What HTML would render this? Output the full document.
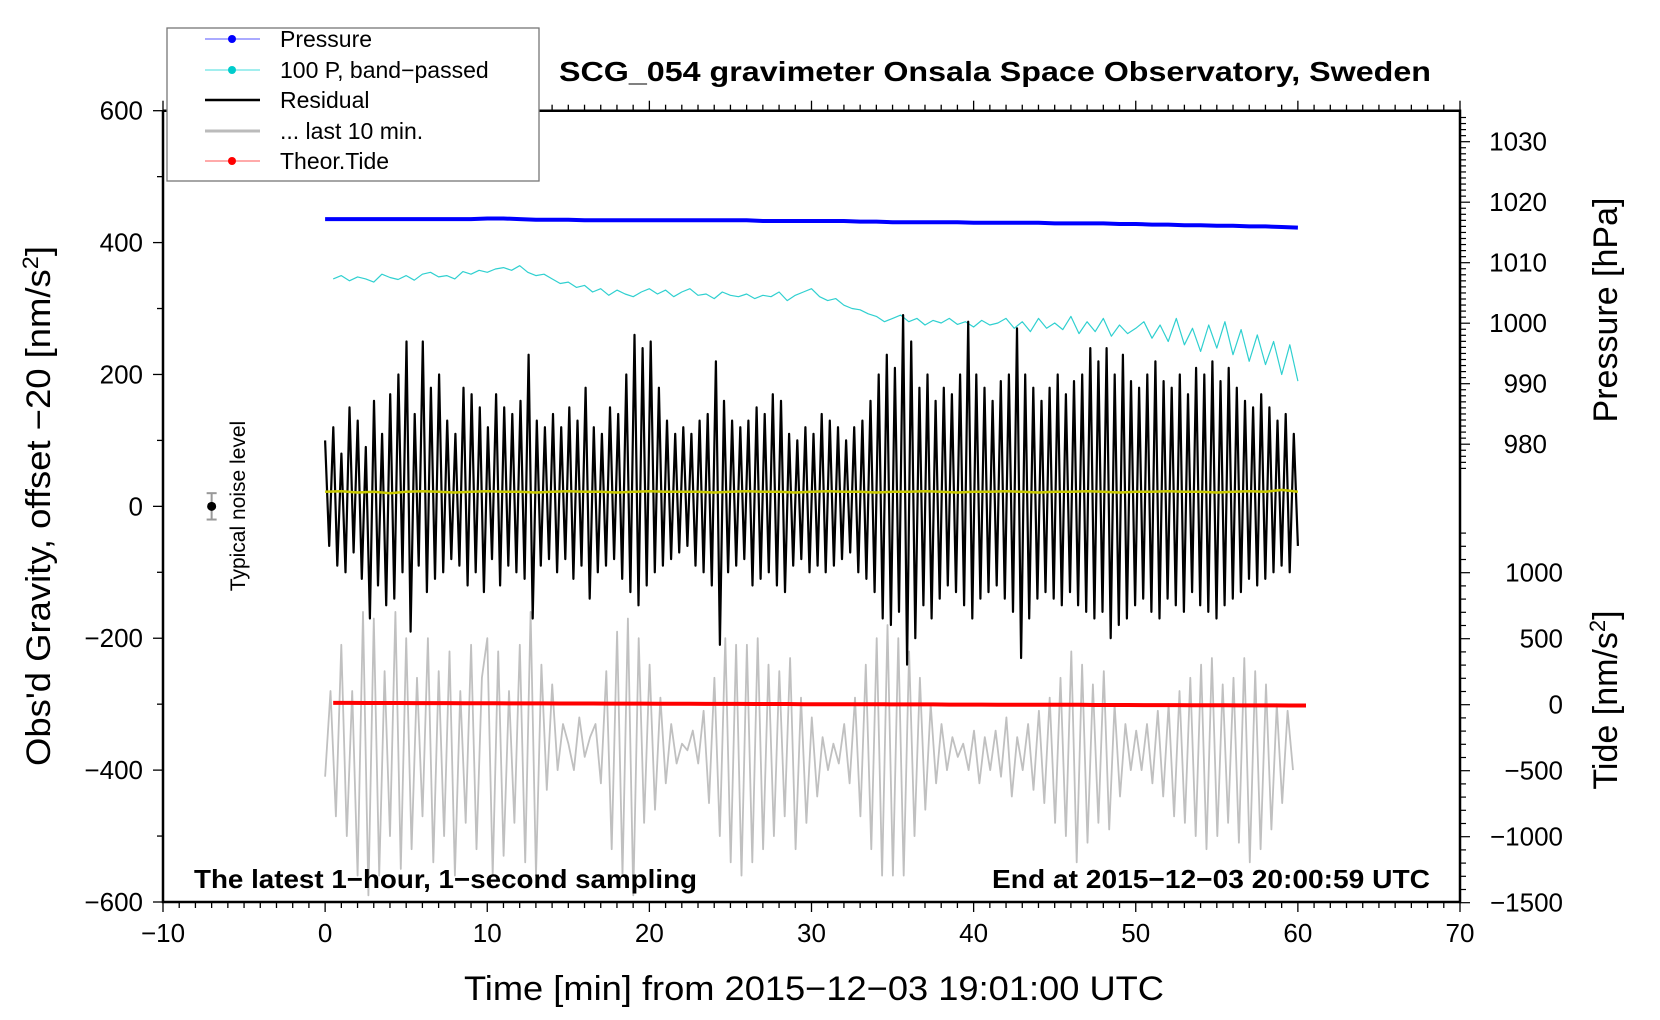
<!DOCTYPE html>
<html><head><meta charset="utf-8"><style>
html,body{margin:0;padding:0;background:#fff}
svg{display:block;font-family:"Liberation Sans",sans-serif}
</style></head><body>
<svg id="chart" width="1660" height="1020" viewBox="0 0 1660 1020">
<g id="series"></g>
<g id="axes"></g>
<rect x="167" y="28" width="372" height="153" fill="#fff" stroke="#777" stroke-width="1.3"/>
<g font-size="23">
 <g><line x1="205" y1="39" x2="260" y2="39" stroke="#55f" stroke-width="1"/><circle cx="232" cy="39" r="4" fill="#00f"/><text x="280" y="47">Pressure</text></g>
 <g><line x1="205" y1="70" x2="260" y2="70" stroke="#4dd" stroke-width="1"/><circle cx="232" cy="70" r="4" fill="#0cc"/><text x="280" y="78">100 P, band−passed</text></g>
 <g><line x1="205" y1="100" x2="260" y2="100" stroke="#000" stroke-width="2.5"/><text x="280" y="108">Residual</text></g>
 <g><line x1="205" y1="131" x2="260" y2="131" stroke="#bbb" stroke-width="3"/><text x="280" y="139">... last 10 min.</text></g>
 <g><line x1="205" y1="161" x2="260" y2="161" stroke="#f55" stroke-width="1"/><circle cx="232" cy="161" r="4" fill="#f00"/><text x="280" y="169">Theor.Tide</text></g>
</g>
<text x="559" y="81" font-size="28" font-weight="bold" textLength="872" lengthAdjust="spacingAndGlyphs">SCG_054 gravimeter Onsala Space Observatory, Sweden</text>
<text x="194" y="888" font-size="26" font-weight="bold" textLength="503" lengthAdjust="spacingAndGlyphs">The latest 1−hour, 1−second sampling</text>
<text x="1430" y="888" font-size="26" font-weight="bold" text-anchor="end" textLength="438" lengthAdjust="spacingAndGlyphs">End at 2015−12−03 20:00:59 UTC</text>
<text x="814" y="1000" font-size="34" text-anchor="middle" textLength="700" lengthAdjust="spacingAndGlyphs">Time [min] from 2015−12−03 19:01:00 UTC</text>
<text transform="translate(50,506) rotate(-90)" font-size="34" text-anchor="middle" textLength="520" lengthAdjust="spacingAndGlyphs">Obs'd Gravity, offset −20 [nm/s<tspan dy="-12" font-size="22">2</tspan><tspan dy="12">]</tspan></text>
<text transform="translate(1617,310) rotate(-90)" font-size="34" text-anchor="middle">Pressure [hPa]</text>
<text transform="translate(1617,700) rotate(-90)" font-size="34" text-anchor="middle">Tide [nm/s<tspan dy="-12" font-size="22">2</tspan><tspan dy="12">]</tspan></text>
<text transform="translate(245,506) rotate(-90)" font-size="21" text-anchor="middle">Typical noise level</text>
</svg>
<script>
const residual = [100,-60,120,-90,80,-100,150,-70,130,-110,90,-170,160,-120,110,-150,170,-140,200,-100,250,-190,140,-90,250,-130,180,-110,200,-100,130,-80,110,-90,180,-120,170,-100,150,-130,120,-80,170,-120,150,-90,140,-100,160,-110,230,-170,130,-90,120,-80,140,-100,120,-80,150,-110,130,-90,180,-140,120,-100,110,-90,150,-80,140,-110,200,-130,260,-150,240,-120,250,-100,180,-90,130,-80,110,-70,120,-60,110,-90,130,-100,140,-120,220,-210,160,-100,130,-90,120,-80,130,-120,150,-110,140,-100,170,-120,160,-130,110,-90,100,-80,120,-100,110,-90,140,-100,130,-90,120,-80,100,-70,120,-100,130,-110,160,-130,200,-170,230,-180,210,-160,290,-240,250,-200,180,-150,200,-170,160,-140,180,-120,170,-130,200,-150,280,-170,200,-140,180,-130,160,-120,190,-140,200,-160,270,-230,200,-170,180,-140,160,-130,180,-140,200,-150,170,-130,190,-150,200,-160,240,-170,220,-160,240,-200,200,-180,230,-170,190,-150,180,-140,200,-160,220,-170,190,-140,180,-150,200,-160,170,-130,210,-150,200,-160,220,-170,190,-150,210,-140,180,-130,160,-110,150,-120,170,-110,150,-100,130,-90,140,-100,110,-60];
const last10 = [-410,-280,-470,-210,-500,-280,-560,-160,-590,-170,-560,-250,-500,-160,-550,-200,-520,-260,-470,-200,-540,-250,-500,-220,-560,-280,-480,-210,-520,-260,-200,-560,-220,-530,-280,-480,-210,-540,-160,-560,-240,-430,-270,-400,-330,-360,-400,-320,-380,-350,-330,-420,-250,-520,-190,-560,-170,-590,-200,-480,-240,-460,-290,-420,-330,-390,-360,-370,-340,-390,-310,-450,-260,-500,-200,-540,-210,-560,-210,-540,-200,-520,-240,-500,-250,-470,-230,-520,-290,-480,-320,-440,-350,-400,-360,-390,-330,-420,-290,-470,-240,-520,-200,-560,-180,-560,-200,-560,-220,-500,-260,-460,-300,-420,-330,-400,-350,-380,-360,-400,-340,-420,-350,-400,-340,-410,-320,-440,-350,-400,-330,-430,-310,-450,-290,-480,-260,-500,-220,-540,-240,-510,-270,-480,-250,-490,-300,-440,-330,-400,-340,-400,-330,-420,-310,-440,-300,-470,-280,-480,-260,-500,-240,-520,-230,-500,-270,-480,-260,-510,-230,-540,-250,-520,-270,-490,-300,-450,-310,-400];
const bandPassed = [345,350,342,348,345,340,352,347,344,350,343,352,355,348,350,345,356,352,358,355,360,362,358,365,355,350,352,345,338,340,332,335,325,330,320,328,322,318,325,330,322,328,318,325,330,320,322,315,325,320,318,322,315,320,318,325,312,320,325,330,318,312,315,305,300,298,292,288,280,285,290,280,285,275,282,278,285,276,280,272,282,275,278,285,270,280,265,285,270,278,268,288,262,280,265,285,258,275,262,270,280,255,275,250,285,245,270,235,275,240,280,230,268,220,260,215,250,200,245,190];
const pressure = [1017.2,1017.2,1017.2,1017.2,1017.2,1017.2,1017.2,1017.2,1017.2,1017.2,1017.3,1017.3,1017.2,1017.1,1017.1,1017.1,1017.0,1017.0,1017.0,1017.0,1017.0,1017.0,1017.0,1017.0,1017.0,1017.0,1017.0,1016.9,1016.9,1016.9,1016.9,1016.9,1016.9,1016.8,1016.8,1016.7,1016.7,1016.7,1016.7,1016.7,1016.6,1016.6,1016.6,1016.6,1016.6,1016.5,1016.5,1016.5,1016.5,1016.4,1016.4,1016.3,1016.3,1016.2,1016.2,1016.1,1016.1,1016.0,1016.0,1015.9,1015.8];
const filtered = [22,23,21,22,20,22,23,22,21,22,23,22,22,21,22,23,22,22,21,22,23,22,22,22,21,22,23,22,22,21,22,23,22,22,21,22,22,23,22,21,22,22,23,22,21,22,22,23,22,21,22,22,23,22,22,21,22,23,22,25,22];
const tide = [14,14,13,13,13,12,12,12,11,11,11,10,10,10,9,9,9,8,8,8,7,7,7,6,6,6,5,5,5,4,4,4,3,3,3,2,2,2,1,1,1,0,0,0,-1,-1,-1,-2,-2,-2,-3,-3,-3,-4,-4,-4,-5,-5,-5,-6,-6];
const xTicks = [-10,0,10,20,30,40,50,60,70];
const yTicks = [600,400,200,0,-200,-400,-600];
const pTicks = [1030,1020,1010,1000,990,980];
const tTicks = [1000,500,0,-500,-1000,-1500];

const NS='http://www.w3.org/2000/svg';
const X0=163,X1=1460,Y0=902,Y1=110.7;
const xs=v=>X0+(v+10)*(X1-X0)/80;
const ys=v=>Y0-(v+600)*(Y0-Y1)/1200;
const ps=v=>141.7+(1030-v)*6.05;
const ts=v=>704.7-v*0.132;
const series=document.getElementById('series'), axes=document.getElementById('axes');
function mk(tag,attrs,parent){const e=document.createElementNS(NS,tag);for(const k in attrs)e.setAttribute(k,attrs[k]);parent.appendChild(e);return e;}
function poly(vals,x0,x1,yf,stroke,w,name){
  const n=vals.length;const pts=vals.map((v,i)=>xs(x0+(x1-x0)*i/(n-1)).toFixed(1)+','+yf(v).toFixed(1)).join(' ');
  const e=mk('polyline',{points:pts,fill:'none',stroke:stroke,'stroke-width':w,'stroke-linejoin':'round'},series);
  
  
}
poly(last10,0,59.7,ys,'#c0c0c0',1.8,'last-10-min-line');
poly(bandPassed,0.5,60,ys,'#30d0d0',1.2,'band-passed-line');
poly(residual,0,60,ys,'#000',2.2,'residual-line');
poly(filtered,0,60,ys,'#c8c800',2.5,'residual-filtered-line');
poly(pressure,0,60,ps,'#0000ff',4,'pressure-line');
poly(tide,0.5,60.5,ts,'#ff0000',4,'tide-line');
const nb=mk('line',{x1:xs(-7),x2:xs(-7),y1:ys(20),y2:ys(-20),stroke:'#999','stroke-width':2},series);


mk('line',{x1:xs(-7)-5,x2:xs(-7)+5,y1:ys(20),y2:ys(20),stroke:'#999','stroke-width':2},series);
mk('line',{x1:xs(-7)-5,x2:xs(-7)+5,y1:ys(-20),y2:ys(-20),stroke:'#999','stroke-width':2},series);
const nd=mk('circle',{cx:xs(-7),cy:ys(0),r:4.5,fill:'#000'},series);


const fr=mk('path',{d:`M${X0},${Y1}V${Y0}H${X1}V${Y1}H${X0}`,fill:'none',stroke:'#000','stroke-width':2.5},axes);


for(let m=-10;m<=70;m++){const maj=m%10===0;const l=maj?10:6;
 mk('line',{x1:xs(m),x2:xs(m),y1:Y0,y2:Y0+l,stroke:'#000','stroke-width':1.3},axes);
 mk('line',{x1:xs(m),x2:xs(m),y1:Y1,y2:Y1-l,stroke:'#000','stroke-width':1.3},axes);}
xTicks.forEach(v=>{const t=mk('text',{x:xs(v),y:Y0+40,'font-size':26,'text-anchor':'middle'},axes);t.textContent=String(v).replace('-','−');
 
 });
for(let v=-600;v<=600;v+=100){mk('line',{x1:X0,x2:X0-(v%200===0?10:6),y1:ys(v),y2:ys(v),stroke:'#000','stroke-width':1.3},axes);}
yTicks.forEach(v=>{const t=mk('text',{x:X0-20,y:ys(v)+9,'font-size':26,'text-anchor':'end'},axes);t.textContent=String(v).replace('-','−');
 
 });
for(let v=976;v<=1034;v++){const y=ps(v);if(y<Y1)continue;mk('line',{x1:X1,x2:X1+(v%10===0?10:6),y1:y,y2:y,stroke:'#000','stroke-width':1.2},axes);}
pTicks.forEach(v=>{const t=mk('text',{x:X1+87,y:ps(v)+9,'font-size':26,'text-anchor':'end'},axes);t.textContent=v;
 
 });
for(let v=-1500;v<=1300;v+=100){mk('line',{x1:X1,x2:X1+(v%500===0?10:6),y1:ts(v),y2:ts(v),stroke:'#000','stroke-width':1.2},axes);}
tTicks.forEach(v=>{const t=mk('text',{x:X1+103,y:ts(v)+9,'font-size':26,'text-anchor':'end'},axes);t.textContent=String(v).replace('-','−');
 
 });
</script>
</body></html>
